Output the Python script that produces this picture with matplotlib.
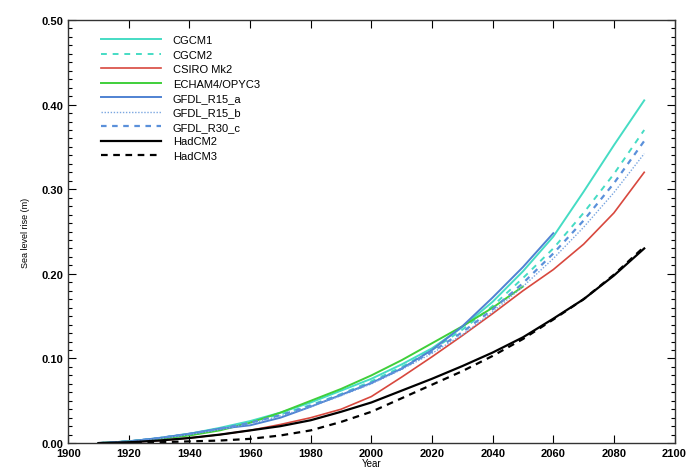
import numpy as np
import matplotlib
matplotlib.use('Agg')
import matplotlib.pyplot as plt
from matplotlib.ticker import MultipleLocator

plt.rcParams['font.family'] = ['Liberation Sans', 'DejaVu Sans']

years = list(range(1910, 2100, 10))
years_r15a = list(range(1910, 2070, 10))
years_echam = list(range(1910, 2060, 10))

cgcm1 = [0, 0.002, 0.006, 0.011, 0.018, 0.026, 0.036, 0.048, 0.062, 0.076,
         0.093, 0.112, 0.137, 0.167, 0.203, 0.244, 0.297, 0.352, 0.405]
cgcm2 = [0, 0.002, 0.006, 0.011, 0.017, 0.025, 0.034, 0.045, 0.058, 0.073,
         0.090, 0.110, 0.134, 0.162, 0.195, 0.230, 0.272, 0.318, 0.370]
csiro = [0, 0.001, 0.003, 0.006, 0.010, 0.015, 0.022, 0.030, 0.040, 0.055,
         0.078, 0.102, 0.127, 0.153, 0.180, 0.205, 0.235, 0.272, 0.320]
echam = [0, 0.002, 0.005, 0.009, 0.015, 0.024, 0.036, 0.050, 0.064, 0.080,
         0.098, 0.118, 0.138, 0.160, 0.185]
gfdl_r15a = [0, 0.002, 0.006, 0.011, 0.017, 0.021, 0.030, 0.043, 0.057, 0.071,
             0.088, 0.110, 0.138, 0.172, 0.208, 0.248]
gfdl_r15b = [0, 0.002, 0.005, 0.010, 0.016, 0.023, 0.032, 0.043, 0.056, 0.070,
             0.087, 0.106, 0.128, 0.155, 0.185, 0.218, 0.255, 0.296, 0.342]
gfdl_r30c = [0, 0.002, 0.006, 0.011, 0.017, 0.024, 0.033, 0.044, 0.057, 0.071,
             0.088, 0.108, 0.131, 0.158, 0.189, 0.224, 0.263, 0.307, 0.357]
hadcm2 = [0, 0.001, 0.003, 0.006, 0.010, 0.015, 0.020, 0.027, 0.037, 0.048,
          0.062, 0.076, 0.091, 0.107, 0.125, 0.147, 0.170, 0.198, 0.230]
hadcm3 = [0, 0.0, 0.001, 0.002, 0.003, 0.005, 0.009, 0.015, 0.025, 0.037,
          0.053, 0.069, 0.085, 0.103, 0.123, 0.146, 0.170, 0.199, 0.232]

fig = plt.figure(figsize=(6.89, 4.77), dpi=100)
ax = fig.add_axes([0.099, 0.069, 0.880, 0.887])

# model runs
ax.plot(years, cgcm1, color='#45dcc4', lw=1.4, label='CGCM1')
ax.plot(years, cgcm2, color='#45dcc4', lw=1.4, ls=(0, (3, 3)), label='CGCM2')
ax.plot(years, csiro, color='#d8483e', lw=1.2, label='CSIRO Mk2')
ax.plot(years_echam, echam, color='#3fcf3a', lw=1.4, label='ECHAM4/OPYC3')
ax.plot(years_r15a, gfdl_r15a, color='#4f82d2', lw=1.4, label='GFDL_R15_a')
ax.plot(years, gfdl_r15b, color='#7aa6e0', lw=1.0, ls=(0, (1, 1.2)), label='GFDL_R15_b')
ax.plot(years, gfdl_r30c, color='#5a90da', lw=1.6, ls=(0, (2.5, 2.5)), label='GFDL_R30_c')
ax.plot(years, hadcm2, color='black', lw=1.6, label='HadCM2')
ax.plot(years, hadcm3, color='black', lw=1.6, ls=(0, (3, 2.5)), label='HadCM3')

ax.set_xlim(1900, 2100)
ax.set_ylim(0, 0.5)
ax.set_xticks(np.arange(1900, 2101, 20))
ax.set_yticks(np.arange(0, 0.51, 0.1))
ax.set_yticklabels(['%.2f' % v for v in np.arange(0, 0.51, 0.1)])
ax.yaxis.set_minor_locator(MultipleLocator(0.01))
ax.tick_params(which='both', direction='in', top=True, right=True, labelsize=8)
ax.tick_params(which='major', length=6, width=0.8)
ax.tick_params(which='minor', length=3, width=0.8)
ax.tick_params(axis='x', which='minor', top=False, bottom=False)
for lbl in ax.get_xticklabels() + ax.get_yticklabels():
    lbl.set_fontweight('semibold')
for sp in ax.spines.values():
    sp.set_linewidth(1.0)
    sp.set_color('#333333')

ax.set_xlabel('Year', fontsize=7, labelpad=0)
ax.set_ylabel('Sea level rise (m)', fontsize=6.5, labelpad=8)

ax.legend(loc='upper left', frameon=False, fontsize=8, handlelength=5.4,
          handletextpad=1.1, labelspacing=0.4, borderaxespad=0.6,
          bbox_to_anchor=(0.035, 0.99))

fig.savefig('out.png', dpi=100)
